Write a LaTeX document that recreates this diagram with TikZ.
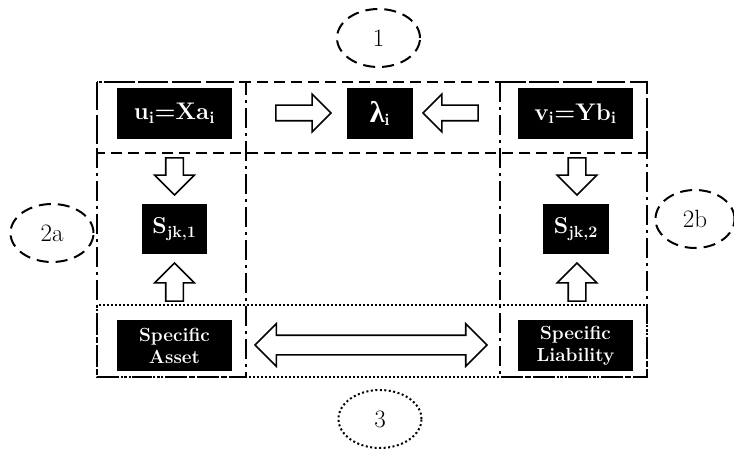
\RequirePackage{fix-cm}
\documentclass[tikz,border=0pt]{standalone}
\usepackage{fontspec}
\newfontfamily\greekfont{Liberation Serif}
\usetikzlibrary{shapes.geometric,shapes.arrows}

\tikzset{
  blackbox/.style={fill=black, text=white, inner sep=0pt, align=center},
  bigfont/.style={font=\bfseries\fontsize{24}{26}\selectfont},
  midfont/.style={font=\bfseries\fontsize{23}{25}\selectfont},
  smallfont/.style={font=\bfseries\fontsize{19}{22}\selectfont},
  blockarrow/.style={single arrow, draw, fill=white, line width=1.6pt, inner sep=8pt,
    single arrow head extend=11pt},
  regiondash/.style={line width=2pt, dash pattern=on 11pt off 6pt},
  regionlong/.style={line width=2pt, dash pattern=on 20pt off 5pt on 3pt off 5pt},
  regiondot/.style={line width=2pt, dash pattern=on 2pt off 2pt},
  tag/.style={ellipse, draw, line width=2pt, minimum width=83pt, minimum height=58pt,
    font=\fontsize{25}{27}\selectfont}
}

\begin{document}
\begin{tikzpicture}[x=1pt,y=-1pt]
        \useasboundingbox (0,0) rectangle (734,449);

        % regions
        \draw[regiondash] (97,82) rectangle (647,153);
        \draw[regionlong] (97,82) rectangle (246,377);
        \draw[regionlong] (500,82) rectangle (647,377);
        \draw[regiondot] (97,305) rectangle (647,377);

        % boxes
        \node[blackbox,bigfont,minimum width=115pt,minimum height=51pt] (u) at (174.5,113.5)
            {u\textsubscript{i}=Xa\textsubscript{i}};
        \node[blackbox,bigfont,minimum width=66pt,minimum height=51pt] (lam) at (380,113.5)
            {{\greekfont\fontsize{30}{32}\selectfont λ}\textsubscript{i}};
        \node[blackbox,bigfont,minimum width=115pt,minimum height=51pt] (v) at (575.5,113.5)
            {v\textsubscript{i}=Yb\textsubscript{i}};
        \node[blackbox,midfont,minimum width=65pt,minimum height=50pt] (s1) at (174.5,229)
            {S\textsubscript{jk,1}};
        \node[blackbox,midfont,minimum width=66pt,minimum height=50pt] (s2) at (576,229)
            {S\textsubscript{jk,2}};
        \node[blackbox,smallfont,minimum width=115pt,minimum height=51pt] (asset) at (174.5,345.5)
            {Specific\\Asset};
        \node[blackbox,smallfont,minimum width=115pt,minimum height=51pt] (liab) at (575.5,345.5)
            {Specific\\Liability};

        % arrows
        \node[blockarrow,inner sep=7pt,minimum height=55pt] (ul) at (299.5,113) {};
        \node[blockarrow,inner sep=7pt,minimum height=55pt,shape border rotate=180] (vl) at (454.5,113) {};
        \node[blockarrow,minimum height=37pt,shape border rotate=270] (us) at (174.5,172) {};
        \node[blockarrow,minimum height=37pt,shape border rotate=270] (vs) at (577,172) {};
        \node[blockarrow,minimum height=38pt,shape border rotate=90] (as) at (174.5,286.5) {};
        \node[blockarrow,minimum height=38pt,shape border rotate=90] (ls) at (577,286.5) {};
        \node[double arrow, draw, fill=white, line width=1.6pt, inner sep=9pt,
            double arrow head extend=11.5pt, minimum height=232pt] (al) at (371,345) {};

        % tags
        \node[tag,dash pattern=on 12pt off 7pt] (t1) at (378.5,38) {1};
        \node[tag,dash pattern=on 12pt off 7pt] (t2a) at (52,233) {2a};
        \node[tag,dash pattern=on 12pt off 7pt,minimum width=79pt] (t2b) at (695,219) {2b};
        \node[tag,dash pattern=on 2pt off 2.5pt] (t3) at (380,419) {3};
\end{tikzpicture}
\end{document}
